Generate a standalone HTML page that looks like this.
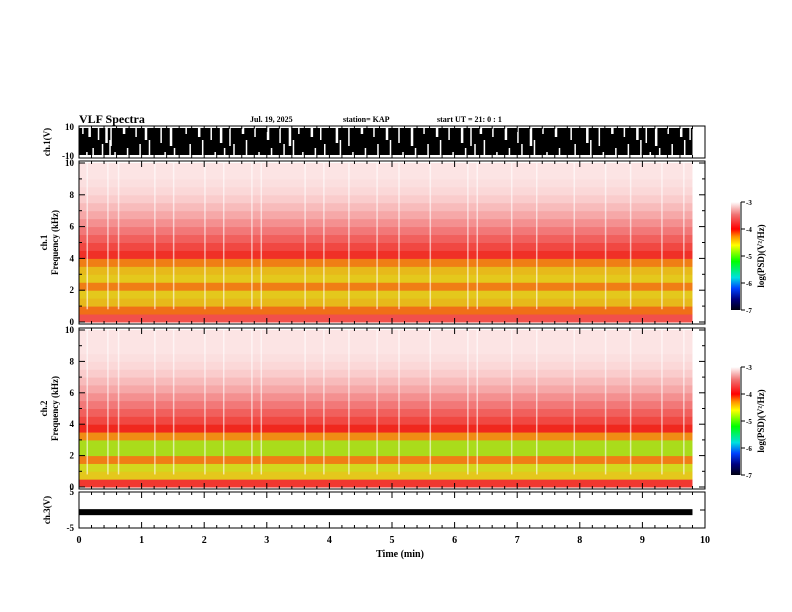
<!DOCTYPE html>
<html><head><meta charset="utf-8"><style>
body{margin:0;background:#fff}
svg{display:block}
text{font-family:"Liberation Serif",serif;font-weight:bold;fill:#000}
</style></head><body>
<svg id="c" width="792" height="612" viewBox="0 0 792 612">
<defs>
<linearGradient id="cb" x1="0" y1="1" x2="0" y2="0">
<stop offset="0" stop-color="#000010"/><stop offset="0.1" stop-color="#000080"/><stop offset="0.2" stop-color="#0040ff"/><stop offset="0.3" stop-color="#00e0e0"/><stop offset="0.45" stop-color="#00ff00"/><stop offset="0.6" stop-color="#ffff00"/><stop offset="0.68" stop-color="#ff9000"/><stop offset="0.75" stop-color="#ff0000"/><stop offset="0.88" stop-color="#f07070"/><stop offset="1" stop-color="#ffffff"/>
</linearGradient>
</defs>
<text x="79" y="123" font-size="12">VLF Spectra</text>
<text x="250" y="122" font-size="8">Jul. 19, 2025</text>
<text x="343" y="122" font-size="8">station= KAP</text>
<text x="437" y="122" font-size="8">start UT =  21: 0 : 1</text>
<g id="g"></g>
</svg>
<script>
const timeTicks=[0,1,2,3,4,5,6,7,8,9,10];
const freqTicks=[0,2,4,6,8,10];
const cbTicks=[-3,-4,-5,-6,-7];
const freqBins1=[-3.75,-4.25,-4.5,-4.55,-4.3,-4.55,-4.5,-4.3,-3.95,-3.8,-3.65,-3.5,-3.4,-3.3,-3.22,-3.15,-3.1,-3.07,-3.05,-3.05];
const freqBins2=[-3.9,-4.55,-4.65,-4.3,-4.8,-4.8,-4.35,-4.0,-3.8,-3.65,-3.5,-3.4,-3.3,-3.22,-3.15,-3.1,-3.07,-3.05,-3.05,-3.05];
const streakTimes=[0.12,0.45,0.62,1.2,1.5,2.0,2.3,2.75,2.9,3.6,3.9,4.3,4.75,5.1,5.6,6.2,6.35,6.9,7.3,7.9,8.4,8.8,9.3,9.65];
const ch1Gaps=[0.05,0.15,0.3,0.42,0.5,0.7,0.9,1.05,1.3,1.45,1.7,1.9,2.1,2.25,2.4,2.6,2.8,3.0,3.2,3.35,3.5,3.7,3.85,4.1,4.3,4.5,4.7,4.9,5.1,5.3,5.5,5.7,5.9,6.1,6.25,6.4,6.6,6.8,7.0,7.2,7.4,7.6,7.85,8.1,8.3,8.5,8.7,8.9,9.05,9.2,9.4,9.6,9.75];
const dataEnd=9.8;
const ch3Level=-0.6;

const NS="http://www.w3.org/2000/svg";
const G=document.getElementById('g');
function el(t,a,p){const e=document.createElementNS(NS,t);for(const k in a)e.setAttribute(k,a[k]);(p||G).appendChild(e);return e;}
const X0=79,X1=705;
const xs=t=>X0+(X1-X0)*t/10;
function cmap(v){
  const s=[[-7,[0,0,16]],[-6.3,[0,64,255]],[-5.8,[0,224,224]],[-5.2,[60,230,20]],[-4.6,[225,215,30]],[-4.35,[240,140,20]],[-4.0,[240,40,30]],[-3.5,[242,120,120]],[-3.0,[253,240,240]]];
  if(v<=s[0][0])return 'rgb(0,0,16)';if(v>=-3)return 'rgb(253,240,240)';
  for(let i=0;i<s.length-1;i++){if(v>=s[i][0]&&v<=s[i+1][0]){const f=(v-s[i][0])/(s[i+1][0]-s[i][0]);const c=s[i][1].map((a,j)=>Math.round(a+(s[i+1][1][j]-a)*f));return `rgb(${c})`;}}
}
function xTicks(yTop,yBot,labels){
  for(let t=0;t<=10.001;t+=0.2){const x=xs(t),major=Math.abs(t-Math.round(t))<0.01,L=major?6:3;
    let e=el('line',{x1:x,x2:x,y1:yBot,y2:yBot-L,stroke:'#000'});
    
    e=el('line',{x1:x,x2:x,y1:yTop,y2:yTop+L,stroke:'#000'});
    }
  if(labels)timeTicks.forEach(t=>{const e=el('text',{x:xs(t),y:yBot+15,'font-size':10,'text-anchor':'middle'});e.textContent=t;
    });
}
function frame(y0,y1,name){const e=el('rect',{x:X0,y:y0,width:X1-X0,height:y1-y0,fill:'none',stroke:'#000'});
  }
function ylab(x,y,txt,name){const e=el('text',{x:x,y:y,'font-size':9,'text-anchor':'middle',transform:`rotate(-90 ${x} ${y})`});e.textContent=txt;
  }

// ch1 waveform
{const y0=126,y1=158;
 let e=el('rect',{x:X0,y:y0+2,width:xs(dataEnd)-X0,height:y1-y0-5,fill:'#000'});
 
 ch1Gaps.forEach((t,i)=>{const g=el('rect',{x:xs(t),y:y0+2,width:1.5+(i%2),height:6+(i%5)*3,fill:'#fff'});
  
  const h=el('rect',{x:xs(t)+4,y:y1-6-(i%4)*4,width:1.5,height:3+(i%4)*4,fill:'#fff'});
  });
 frame(y0,y1,'ch1-frame');xTicks(y0,y1,false);
 [['10',y0+4],['-10',y1+1]].forEach(([s,y])=>{const t=el('text',{x:74,y:y,'font-size':9,'text-anchor':'end'});t.textContent=s;
   });
 ylab(50,142,'ch.1(V)','ch1-y-axis-title');}

function spectro(y0,y1,bins,cbY0,name,title){
  const fy=f=>y1-2-(y1-y0-4)*f/10;
  bins.forEach((v,i)=>{const r=el('rect',{x:X0,y:fy((i+1)*0.5),width:xs(dataEnd)-X0,height:fy(i*0.5)-fy((i+1)*0.5)+0.5,fill:cmap(v)});
    });
  streakTimes.forEach(t=>{const r=el('rect',{x:xs(t),y:fy(10),width:1.5,height:fy(0.8)-fy(10),fill:'#fff',opacity:0.6});
    });
  frame(y0,y1,name+'-frame');xTicks(y0,y1,false);
  for(let f=0;f<=10;f++){const y=fy(f),L=f%2?3:6;
    el('line',{x1:X0,x2:X0+L,y1:y,y2:y,stroke:'#000'});el('line',{x1:X1,x2:X1-L,y1:y,y2:y,stroke:'#000'});}
  freqTicks.forEach(f=>{const t=el('text',{x:74,y:fy(f)+3,'font-size':9,'text-anchor':'end'});t.textContent=f;
    });
  ylab(47,(y0+y1)/2,title,name+'-y-axis-title');ylab(58,(y0+y1)/2,'Frequency (kHz)',name+'-y-axis-title');
  const cb=el('rect',{x:731,y:cbY0,width:9,height:108,fill:'url(#cb)'});
  
  const cy=v=>cbY0+108*(-3-v)/4;
  el('line',{x1:741,x2:741,y1:cbY0,y2:cbY0+108,stroke:'#000'});
  cbTicks.forEach(v=>{el('line',{x1:741,x2:745,y1:cy(v),y2:cy(v),stroke:'#000'});
    const t=el('text',{x:746,y:cy(v)+3,'font-size':7});t.textContent=v;
    });
  ylab(764,cbY0+54,'log(PSD)(V²/Hz)','colorbar-title');
}
spectro(161,324,freqBins1,202,'spectrogram-ch1','ch.1');
spectro(328,489,freqBins2,367,'spectrogram-ch2','ch.2');

// ch3
{const y0=492,y1=528;const ys=v=>y0+(y1-y0)*(5-v)/10;
 let e=el('rect',{x:X0,y:ys(ch3Level)-3,width:xs(dataEnd)-X0,height:6,fill:'#000'});
 
 frame(y0,y1,'ch3-frame');xTicks(y0,y1,true);
 [5,0,-5].forEach(v=>{el('line',{x1:X0,x2:X0+5,y1:ys(v),y2:ys(v),stroke:'#000'});el('line',{x1:X1,x2:X1-5,y1:ys(v),y2:ys(v),stroke:'#000'});});
 [['5',ys(5)+3],['-5',ys(-5)+3]].forEach(([s,y])=>{const t=el('text',{x:74,y:y,'font-size':9,'text-anchor':'end'});t.textContent=s;
   });
 ylab(50,510,'ch.3(V)','ch3-y-axis-title');
 const t=el('text',{x:400,y:557,'font-size':10,'text-anchor':'middle'});t.textContent='Time (min)';
 }
</script>
</body></html>
